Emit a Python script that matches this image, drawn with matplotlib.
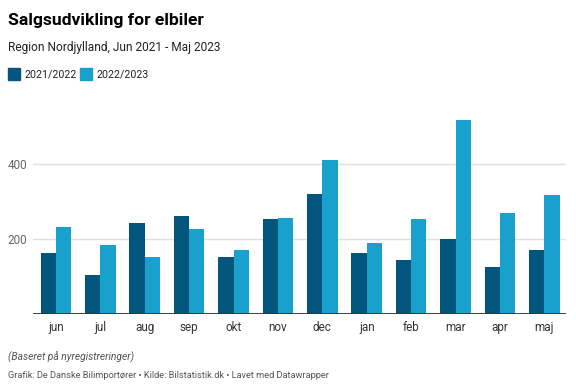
import numpy as np
import matplotlib.pyplot as plt
from matplotlib.patches import Rectangle

plt.rcParams['font.family'] = ['Roboto', 'DejaVu Sans']

# data
months = ['jun', 'jul', 'aug', 'sep', 'okt', 'nov',
          'dec', 'jan', 'feb', 'mar', 'apr', 'maj']
sales_2122 = [162, 104, 243, 261, 153, 253, 321, 162, 143, 200, 126, 170]
sales_2223 = [233, 183, 151, 226, 171, 255, 410, 190, 253, 517, 269, 318]
series_names = ['2021/2022', '2022/2023']

DARK = '#02557d'
LIGHT = '#18a1cd'

fig = plt.figure(figsize=(5.76, 3.9), dpi=100)
ax = fig.add_axes([0.057, 0.1949, 0.925, 0.5385])

x = np.arange(len(months))
w = 0.345
ax.bar(x - w / 2, sales_2122, width=w, color=DARK, zorder=2)
ax.bar(x + w / 2, sales_2223, width=w, color=LIGHT, zorder=2)

ax.set_xlim(-0.52, 11.48)
ax.set_ylim(0, 560)
ax.set_yticks([200, 400])
ax.yaxis.grid(True, color='#e0e0e0', linewidth=1, zorder=0)
ax.axhline(0, color='#333333', linewidth=1.3, zorder=3)
for s in ax.spines.values():
    s.set_visible(False)
ax.set_xticks(x)
ax.set_xticklabels(months)
ax.tick_params(axis='x', length=0, pad=5, labelsize=8.5, labelcolor='#333333')
ax.tick_params(axis='y', length=0, pad=4, labelsize=8.5, labelcolor='#666666')

# header
fig.text(0.014, 0.948, 'Salgsudvikling for elbiler', fontsize=12.6,
         fontweight='bold', color='#000000', va='center')
fig.text(0.014, 0.877, 'Region Nordjylland, Jun 2021 - Maj 2023', fontsize=8.6,
         color='#222222', va='center')

# legend
leg_x = [0.014, 0.139]
for xs, name, col in zip(leg_x, series_names, [DARK, LIGHT]):
    fig.patches.append(Rectangle((xs, 0.795), 0.021, 0.031, transform=fig.transFigure,
                                 color=col, figure=fig))
    fig.text(xs + 0.028, 0.810, name, fontsize=7.7, color='#222222', va='center')

# footer
fig.text(0.014, 0.085, '(Baseret på nyregistreringer)', fontsize=7.4,
         style='italic', color='#555555', va='center')
fig.text(0.014, 0.038, 'Grafik: De Danske Bilimportører • Kilde: Bilstatistik.dk • Lavet med Datawrapper',
         fontsize=6.7, color='#555555', va='center')

fig.savefig('out.png', dpi=100)
